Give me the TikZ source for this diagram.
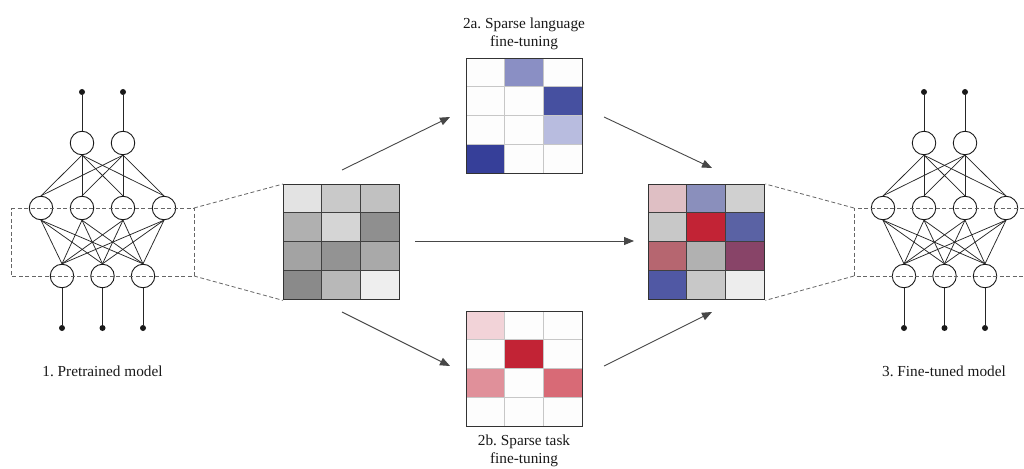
\documentclass[tikz,border=0pt]{standalone}
\usepackage{fontspec}
\setmainfont{Liberation Serif}
\frenchspacing
\usetikzlibrary{arrows.meta}

% 3x4 heat map: #1 left x, #2 top y, #3 cell colours (HTML) row by row
\newcommand\heatcells[3]{%
  \foreach \hc [count=\k from 0] in {#3} {%
    \pgfmathtruncatemacro\hcol{mod(\k,3)}%
    \pgfmathtruncatemacro\hrow{floor(\k/3)}%
    \definecolor{cellfill}{HTML}{\hc}%
    \fill[cellfill] (#1+\hcol*38.67,#2+\hrow*28.75) rectangle ++(38.67,28.75);
  }%
}
% inner grid lines of a heat map: #1 left x, #2 top y, #3 style
\newcommand\heatlines[3]{%
  \foreach \c in {1,2} \draw[#3] (#1+\c*38.67,#2) -- ++(0,115);
  \foreach \r in {1,2,3} \draw[#3] (#1,#2+\r*28.75) -- ++(116,0);
}
% small feed-forward network: #1 name prefix, #2 horizontal shift
\newcommand\network[2]{%
  \begin{scope}[shift={(#2,0)}]
    \node[dot] (#1-u1) at (82,92) {};
    \node[dot] (#1-u2) at (123,92) {};
    \node[neuron] (#1-t1) at (82,143) {};
    \node[neuron] (#1-t2) at (123,143) {};
    \node[neuron] (#1-m1) at (41,208) {};
    \node[neuron] (#1-m2) at (82,208) {};
    \node[neuron] (#1-m3) at (123,208) {};
    \node[neuron] (#1-m4) at (164,208) {};
    \node[neuron] (#1-b1) at (62,276) {};
    \node[neuron] (#1-b2) at (102.5,276) {};
    \node[neuron] (#1-b3) at (143,276) {};
    \node[dot] (#1-d1) at (62,328) {};
    \node[dot] (#1-d2) at (102.5,328) {};
    \node[dot] (#1-d3) at (143,328) {};
  \end{scope}
  \foreach \i in {1,2} {
    \draw[link] (#1-u\i) -- (#1-t\i.north);
    \foreach \j in {1,...,4} \draw[link] (#1-t\i.south) -- (#1-m\j.north);
  }
  \foreach \i in {1,...,4}
    \foreach \j in {1,2,3} \draw[link] (#1-m\i.south) -- (#1-b\j.north);
  \foreach \j in {1,2,3} \draw[link] (#1-b\j.south) -- (#1-d\j);
}

\begin{document}
\begin{tikzpicture}[x=1pt,y=-1pt,
  neuron/.style={circle,draw=black!90,line width=0.9pt,minimum size=23.5pt,inner sep=0pt},
  dot/.style={circle,fill=black!90,minimum size=6pt,inner sep=0pt},
  link/.style={line width=0.75pt,draw=black!85},
  guide/.style={draw=black!60,line width=0.8pt,dash pattern=on 4pt off 2.5pt},
  flow/.style={draw=black!72,line width=0.9pt,-{Triangle[length=10pt,width=8pt]}},
  frame/.style={draw=black!80,line width=1.4pt,inner sep=0pt,minimum width=116pt,minimum height=115pt,anchor=north west},
  darkgrid/.style={draw=black!75,line width=1pt},
  lightgrid/.style={draw=black!22,line width=1pt},
  caption/.style={font=\fontsize{15.3}{18.5}\selectfont,align=center,inner sep=0pt,text=black!90}
]
\useasboundingbox (0,0) rectangle (1024,468);

% pretrained weights
\heatcells{283}{184}{E3E3E3,C9C9C9,C1C1C1,B0B0B0,D5D5D5,8F8F8F,A3A3A3,939393,A9A9A9,8A8A8A,B8B8B8,EEEEEE}
\heatlines{283}{184}{darkgrid}
\node[frame] (G1) at (283,184) {};

% sparse language update
\heatcells{466}{58}{FDFDFD,8A8FC4,FDFDFD,FDFDFD,FDFDFD,4650A0,FDFDFD,FDFDFD,B8BCDF,363F99,FDFDFD,FDFDFD}
\heatlines{466}{58}{lightgrid}
\node[frame] (G2) at (466,58) {};

% sparse task update
\heatcells{466}{311}{F2D3D8,FDFDFD,FDFDFD,FDFDFD,C22335,FDFDFD,E0909A,FDFDFD,D86A76,FDFDFD,FDFDFD,FDFDFD}
\heatlines{466}{311}{lightgrid}
\node[frame] (G3) at (466,311) {};

% composed fine-tuned weights
\heatcells{648}{184}{DFBFC4,8A8FBC,D0D0D0,C8C8C8,C22335,5A62A4,B66670,B1B1B1,884468,5058A4,C8C8C8,EDEDED}
\heatlines{648}{184}{darkgrid}
\node[frame] (G4) at (648,184) {};

% networks
\network{L}{0}
\network{R}{842}

% highlighted layer of the pretrained network
\coordinate (Lnw) at (11,208);
\coordinate (Lne) at (194,208);
\coordinate (Lse) at (194,276);
\coordinate (Lsw) at (11,276);
\draw[guide] (Lnw) -- (Lne) -- (Lse) -- (Lsw) -- cycle;
\draw[guide] (Lne) -- (G1.north west);
\draw[guide] (Lse) -- (G1.south west);

% highlighted layer of the fine-tuned network
\coordinate (Rne) at (1024,208);
\coordinate (Rnw) at (854,208);
\coordinate (Rsw) at (854,276);
\coordinate (Rse) at (1024,276);
\draw[guide] (Rne) -- (Rnw) -- (Rsw) -- (Rse);
\draw[guide] (Rnw) -- (G4.north east);
\draw[guide] (Rsw) -- (G4.south east);

% flow arrows
\coordinate (a1s) at (342,170); \coordinate (a1e) at (450,117);
\coordinate (a2s) at (604,117); \coordinate (a2e) at (712,168);
\coordinate (a3s) at (342,312); \coordinate (a3e) at (450,366);
\coordinate (a4s) at (604,366); \coordinate (a4e) at (712,312);
\coordinate (a5s) at (415,241); \coordinate (a5e) at (634,241);
\draw[flow] (a1s) -- (a1e);
\draw[flow] (a2s) -- (a2e);
\draw[flow] (a3s) -- (a3e);
\draw[flow] (a4s) -- (a4e);
\draw[flow] (a5s) -- (a5e);

% captions
\node[caption,anchor=base] (cap1) at (102.5,376) {1. Pretrained model};
\node[caption,anchor=base] (cap3) at (944,376) {3. Fine-tuned model};
\node[caption,anchor=north] (cap2a) at (524,17.5) {2a. Sparse language\\fine-tuning};
\node[caption,anchor=north] (cap2b) at (524,434.5) {2b. Sparse task\\fine-tuning};
\end{tikzpicture}
\end{document}
